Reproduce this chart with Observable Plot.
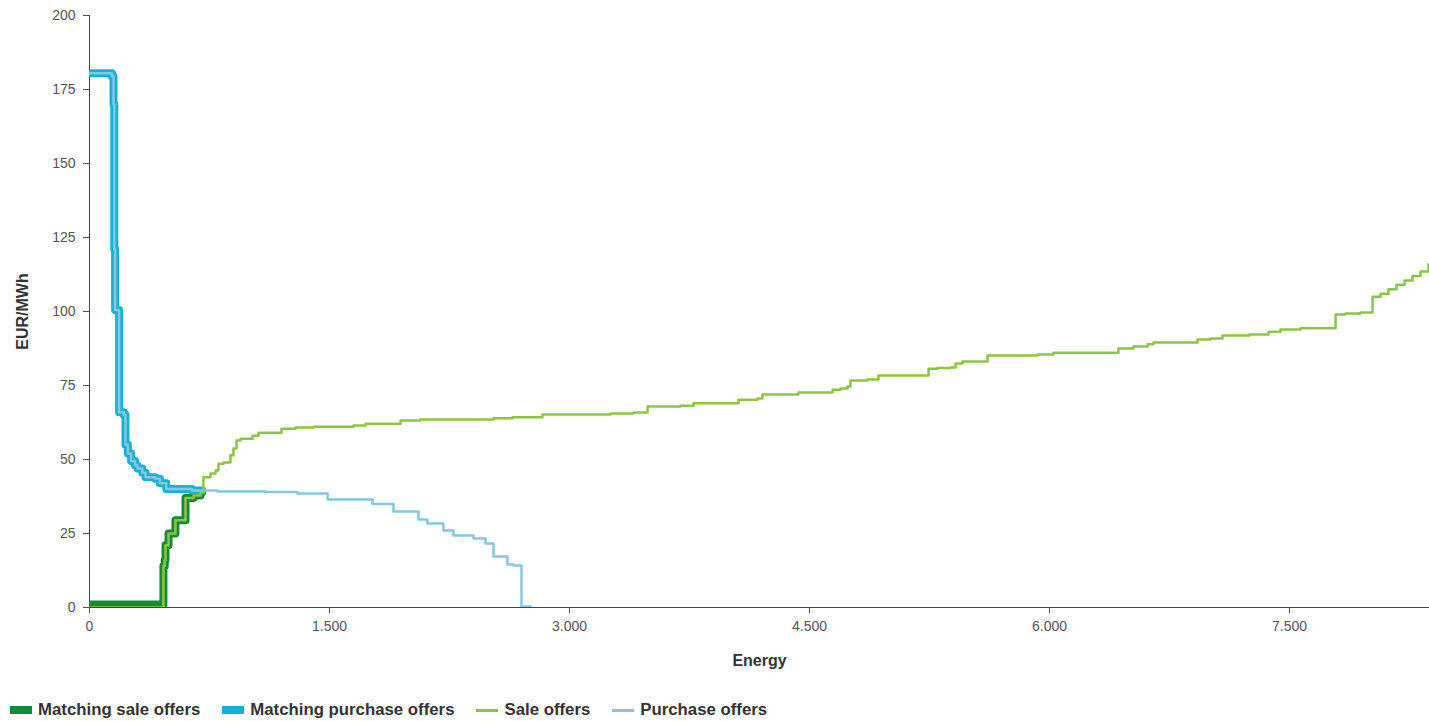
<!DOCTYPE html>
<html>
<head>
<meta charset="utf-8">
<script src="https://cdn.jsdelivr.net/npm/d3@7"></script>
<script src="https://cdn.jsdelivr.net/npm/@observablehq/plot@0.6"></script>
<style>
  body { margin: 0; background: #fff; font-family: "Liberation Sans", Arial, sans-serif; }
  #chart svg { display: block; }
  g[aria-label="x-axis label"] text, g[aria-label="y-axis label"] text { font-weight: bold; fill: #333; font-size: 16px; }
  .legend { display: flex; align-items: center; margin-left: 10px; margin-top: 5px; font-weight: bold; font-size: 16.8px; color: #333; }
  .legend .item { display: flex; align-items: center; margin-right: 22px; }
  .legend .sw { display: inline-block; margin-right: 6px; }
</style>
</head>
<body>
<div id="chart"></div>
<div class="legend" id="legend"></div>
<script>
// ---- data (step curves: price applies from x onward) ----
const saleX = [0, 462, 470, 475, 494, 537, 600, 650, 694, 712, 756, 788, 806, 838, 881, 900, 919, 944, 1019, 1056, 1200, 1288, 1400, 1650, 1725, 1944, 2069, 2525, 2644, 2831, 3256, 3400, 3488, 3694, 3775, 4056, 4175, 4206, 4431, 4644, 4694, 4738, 4756, 4863, 4931, 5244, 5300, 5381, 5413, 5456, 5613, 5925, 6025, 6431, 6525, 6613, 6650, 6925, 7006, 7081, 7250, 7369, 7444, 7569, 7788, 7850, 7944, 8019, 8069, 8119, 8169, 8219, 8269, 8319, 8369, 8420];
const saleY = [0, 14, 16, 21, 25, 29.5, 37, 37.8, 39, 44, 45.3, 46.3, 48.6, 49, 51.4, 53.7, 56.4, 57, 58, 59, 60.4, 60.8, 61.1, 61.5, 62.1, 63.2, 63.5, 63.9, 64.3, 65.2, 65.5, 65.9, 67.9, 68.2, 69, 70.2, 70.6, 72, 72.6, 73.6, 74, 74.7, 76.7, 77, 78.4, 80.7, 80.9, 81.1, 82.4, 83.1, 85.1, 85.5, 86.1, 87.5, 88.2, 88.9, 89.5, 90.5, 90.9, 91.9, 92.2, 93.2, 93.9, 94.3, 99, 99.3, 99.7, 105, 106, 107.5, 109, 110.5, 112, 113.5, 116, 117];

const purchaseX = [0, 140, 150, 155, 160, 185, 215, 225, 240, 260, 285, 300, 330, 350, 410, 440, 480, 560, 640, 800, 1100, 1300, 1488, 1769, 1900, 2056, 2112, 2212, 2275, 2400, 2475, 2525, 2612, 2650, 2700, 2756];
const purchaseY = [180.5, 179.5, 170, 121, 100.5, 66, 65, 55, 52, 49.5, 48, 47, 45.5, 44, 43.5, 42, 40, 40, 39.5, 39.2, 39, 38.5, 36.5, 35, 32.4, 29.7, 28.4, 26, 24.3, 23.3, 21.6, 17.2, 14.5, 14.2, 0.3, 0.3];

const matchSaleX = [0, 462, 470, 475, 494, 537, 600, 650, 694, 705];
const matchSaleY = [1, 14, 16, 21, 25, 29.5, 37, 37.8, 39, 39];

const matchPurchaseX = [0, 140, 150, 155, 160, 185, 215, 225, 240, 260, 285, 300, 330, 350, 410, 440, 480, 560, 640, 705];
const matchPurchaseY = [180.5, 179.5, 170, 121, 100.5, 66, 65, 55, 52, 49.5, 48, 47, 45.5, 44, 43.5, 42, 40, 40, 39.5, 39.5];

const xTicks = [0, 1500, 3000, 4500, 6000, 7500];
const yTicks = [0, 25, 50, 75, 100, 125, 150, 175, 200];

const seriesNames = ["Matching sale offers", "Matching purchase offers", "Sale offers", "Purchase offers"];
const seriesColors = ["#168a3a", "#16b2d6", "#8cc63f", "#84c7e2"];

// ---- build ----
const toPts = (xs, ys) => xs.map((x, i) => ({x, y: ys[i]}));
const sale = toPts(saleX, saleY);
const purchase = toPts(purchaseX, purchaseY);
const mSale = toPts(matchSaleX, matchSaleY);
const mPurchase = toPts(matchPurchaseX, matchPurchaseY);

const fmt = d3.formatLocale({decimal: ",", thousands: ".", grouping: [3], currency: ["", ""]}).format(",");

const chart = Plot.plot({
  width: 1429,
  height: 695,
  marginLeft: 89,
  marginRight: 0,
  marginTop: 15,
  marginBottom: 88,
  style: {fontFamily: "'Liberation Sans', Arial, sans-serif", fontSize: "14px", color: "#555", background: "#fff"},
  x: {domain: [0, 8375]},
  y: {domain: [0, 200]},
  marks: [
    Plot.axisX({ticks: xTicks, tickFormat: fmt, tickSize: 6, tickPadding: 8, label: "Energy", labelAnchor: "center", labelArrow: "none", labelOffset: 58}),
    Plot.axisY({ticks: yTicks, tickSize: 6, tickPadding: 8, label: "EUR/MWh", labelAnchor: "center", labelArrow: "none", labelOffset: 73}),
    Plot.ruleX([0], {stroke: "#444", strokeWidth: 1}),
    Plot.ruleY([0], {stroke: "#444", strokeWidth: 1}),
    Plot.line(mSale, {x: "x", y: "y", curve: "step-after", stroke: seriesColors[0], strokeWidth: 8, clip: true}),
    Plot.line(mPurchase, {x: "x", y: "y", curve: "step-after", stroke: seriesColors[1], strokeWidth: 8, clip: true}),
    Plot.line(sale, {x: "x", y: "y", curve: "step-after", stroke: seriesColors[2], strokeWidth: 2.5, clip: true}),
    Plot.line(purchase, {x: "x", y: "y", curve: "step-after", stroke: seriesColors[3], strokeWidth: 2.5, clip: true})
  ]
});
document.getElementById("chart").append(chart);

// ---- legend ----
const legend = document.getElementById("legend");
seriesNames.forEach((name, i) => {
  const item = document.createElement("span");
  item.className = "item";
  const sw = document.createElement("span");
  sw.className = "sw";
  sw.style.width = "22px";
  sw.style.height = i < 2 ? "8px" : "3px";
  sw.style.background = seriesColors[i];
  item.append(sw, document.createTextNode(name));
  legend.append(item);
});
</script>
</body>
</html>
